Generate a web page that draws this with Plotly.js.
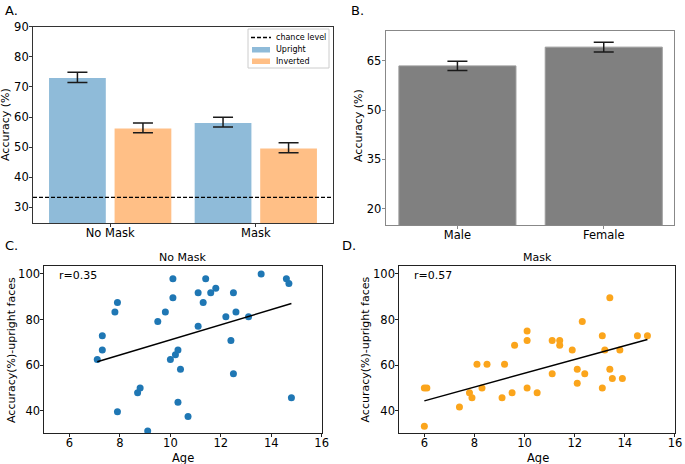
<!DOCTYPE html>
<html><head><meta charset="utf-8">
<script src="https://cdn.plot.ly/plotly-3.0.1.min.js"></script>
<style>html,body{margin:0;padding:0;background:#fff}#plot{width:685px;height:464px}</style>
</head><body><div id="plot"></div>
<script>
// ---- Panel A data ----
const groups = ['No Mask', 'Mask'];
const uprightMean = [73.2, 58.3];
const uprightErr = [1.7, 1.65];
const invertedMean = [56.4, 49.8];
const invertedErr = [1.65, 1.65];
const chanceLevel = 33.3;
const legendLabels = ['chance level', 'Upright', 'Inverted'];

// ---- Panel B data ----
const genders = ['Male', 'Female'];
const genderMean = [63.4, 69.1];
const genderErr = [1.4, 1.5];

// ---- Panel C data (No Mask) ----
const ageNoMask = [7.1, 7.3, 7.3, 7.8, 7.9, 7.9, 8.7, 8.8, 9.1, 9.5, 9.8, 10.0, 10.1, 10.1, 10.2, 10.3, 10.3, 10.4, 10.7, 11.1, 11.1, 11.3, 11.4, 11.6, 11.8, 12.2, 12.4, 12.5, 12.5, 12.6, 13.1, 13.6, 14.6, 14.7, 14.8];
const accNoMask = [62.5, 72.9, 66.7, 83.3, 87.5, 39.6, 47.9, 50.0, 31.25, 79.2, 83.3, 62.5, 97.9, 89.6, 64.6, 66.7, 43.75, 58.3, 37.5, 77.1, 91.7, 87.5, 97.9, 91.7, 93.75, 81.25, 70.8, 91.7, 56.25, 83.3, 81.25, 100, 97.9, 95.8, 45.8];
const fitNoMaskX = [7.1, 14.8];
const fitNoMaskY = [61.5, 87.0];
const rNoMask = 'r=0.35';

// ---- Panel D data (Mask) ----
const ageMask = [6.0, 6.1, 6.0, 7.4, 7.8, 7.9, 8.1, 8.3, 8.5, 9.1, 9.2, 9.5, 9.6, 10.1, 10.1, 10.1, 10.5, 11.1, 11.1, 11.4, 11.4, 11.9, 12.1, 12.1, 12.3, 12.4, 13.1, 13.1, 13.2, 13.4, 13.4, 13.5, 13.8, 13.9, 14.5, 14.9];
const accMask = [50.0, 50.0, 33.3, 41.7, 47.9, 45.8, 60.4, 50.0, 60.4, 45.8, 60.4, 47.9, 68.75, 75.0, 70.8, 50.0, 47.9, 70.8, 56.25, 70.8, 68.75, 66.7, 58.3, 52.1, 79.2, 56.25, 72.9, 50.0, 66.7, 89.6, 58.3, 54.2, 66.7, 54.2, 72.9, 72.9];
const fitMaskX = [6.0, 14.9];
const fitMaskY = [44.4, 71.3];
const rMask = 'r=0.57';

const FONT = 'DejaVu Sans, sans-serif';
const BLUE_BAR = '#8fbbd9';
const ORANGE_BAR = '#ffbf86';
const DASH = '4px,2px';
const W = 685, H = 464;
const px = (v) => v / W;          // pixel -> paper x
const py = (v) => 1 - v / H;      // pixel -> paper y
const errStyle = (arr) => ({type: 'data', array: arr, visible: true, color: '#1a1a1a', thickness: 1.5, width: 10});

const traces = [
  {type: 'scatter', mode: 'lines', x: [0, 1], y: [chanceLevel, chanceLevel], xaxis: 'x5', yaxis: 'y',
   line: {color: '#000', width: 1.4, dash: DASH}, name: legendLabels[0], showlegend: false, hoverinfo: 'skip'},
  {type: 'bar', x: groups, y: uprightMean, error_y: errStyle(uprightErr), name: legendLabels[1], showlegend: false,
   width: 0.4, offset: -0.425, marker: {color: BLUE_BAR, line: {color: '#fff', width: 1.5}}, xaxis: 'x', yaxis: 'y'},
  {type: 'bar', x: groups, y: invertedMean, error_y: errStyle(invertedErr), name: legendLabels[2], showlegend: false,
   width: 0.4, offset: 0.025, marker: {color: ORANGE_BAR, line: {color: '#fff', width: 1.5}}, xaxis: 'x', yaxis: 'y'},
  {type: 'bar', x: genders, y: genderMean, error_y: errStyle(genderErr), showlegend: false,
   width: 0.8, marker: {color: '#808080', line: {color: '#9a9a9a', width: 1}}, xaxis: 'x2', yaxis: 'y2'},
  {type: 'scatter', mode: 'markers', x: ageNoMask, y: accNoMask, xaxis: 'x3', yaxis: 'y3', showlegend: false,
   marker: {color: '#1f77b4', size: 7}},
  {type: 'scatter', mode: 'lines', x: fitNoMaskX, y: fitNoMaskY, xaxis: 'x3', yaxis: 'y3', showlegend: false,
   line: {color: '#000', width: 1.5}},
  {type: 'scatter', mode: 'markers', x: ageMask, y: accMask, xaxis: 'x4', yaxis: 'y4', showlegend: false,
   marker: {color: '#fba51c', size: 7}},
  {type: 'scatter', mode: 'lines', x: fitMaskX, y: fitMaskY, xaxis: 'x4', yaxis: 'y4', showlegend: false,
   line: {color: '#000', width: 1.5}}
];

const axBase = (col, isX) => ({showline: true, mirror: true, linecolor: col, linewidth: 1, ticks: 'outside', ticklen: 3,
  tickcolor: col, showgrid: false, zeroline: false, tickfont: {family: FONT, size: 11.5, color: '#000'}, fixedrange: true,
  ticklabelstandoff: isX ? -4 : -2});

const ann = (text, x, y, opts) => Object.assign({text: text, xref: 'paper', yref: 'paper', x: px(x), y: py(y),
  showarrow: false, font: {family: FONT, size: 11, color: '#000'}}, opts || {});

const layout = {
  width: W, height: H, margin: {l: 0, r: 0, t: 0, b: 0},
  paper_bgcolor: '#fff', plot_bgcolor: '#fff',
  font: {family: FONT, size: 11, color: '#000'},
  barmode: 'group',
  showlegend: false,
  xaxis: Object.assign(axBase('#333', true), {domain: [0.0482, 0.4861], anchor: 'y', range: [-0.53, 1.53], type: 'category'}),
  yaxis: Object.assign(axBase('#333', false), {domain: [0.5194, 0.9425], anchor: 'x', range: [24.8, 90], tickvals: [30, 40, 50, 60, 70, 80, 90]}),
  xaxis5: {domain: [0.0482, 0.4861], anchor: 'y', overlaying: 'x', range: [0, 1], visible: false, fixedrange: true},
  xaxis2: Object.assign(axBase('#888', true), {domain: [0.5631, 0.9839], anchor: 'y2', range: [-0.49, 1.48], type: 'category'}),
  yaxis2: Object.assign(axBase('#888', false), {domain: [0.5151, 0.9332], anchor: 'x2', range: [15.1, 74], tickvals: [20, 35, 50, 65]}),
  xaxis3: Object.assign(axBase('#222', true), {domain: [0.0647, 0.4696], anchor: 'y3', range: [5, 16], tickvals: [6, 8, 10, 12, 14, 16]}),
  yaxis3: Object.assign(axBase('#222', false), {domain: [0.0662, 0.4274], anchor: 'x3', range: [30.2, 103.6], tickvals: [40, 60, 80, 100]}),
  xaxis4: Object.assign(axBase('#222', true), {domain: [0.5829, 0.9854], anchor: 'y4', range: [5, 16], tickvals: [6, 8, 10, 12, 14, 16]}),
  yaxis4: Object.assign(axBase('#222', false), {domain: [0.0662, 0.4274], anchor: 'x4', range: [30.2, 103.6], tickvals: [40, 60, 80, 100]}),
  shapes: [
    // manual legend for panel A
    {type: 'rect', xref: 'paper', yref: 'paper', x0: px(248), x1: px(329), y0: py(29), y1: py(68),
     line: {color: '#cccccc', width: 1}, fillcolor: 'rgba(255,255,255,0.9)'},
    {type: 'line', xref: 'paper', yref: 'paper', x0: px(251), x1: px(271), y0: py(37.5), y1: py(37.5),
     line: {color: '#000', width: 1.4, dash: DASH}},
    {type: 'rect', xref: 'paper', yref: 'paper', x0: px(252), x1: px(270), y0: py(47), y1: py(52.5),
     line: {width: 0}, fillcolor: BLUE_BAR},
    {type: 'rect', xref: 'paper', yref: 'paper', x0: px(252), x1: px(270), y0: py(58.5), y1: py(64),
     line: {width: 0}, fillcolor: ORANGE_BAR}
  ],
  annotations: [
    ann('A.', 3, 1, {xanchor: 'left', yanchor: 'top', font: {family: FONT, size: 13, color: '#000'}}),
    ann('B.', 349, 1, {xanchor: 'left', yanchor: 'top', font: {family: FONT, size: 13, color: '#000'}}),
    ann('C.', 3, 236, {xanchor: 'left', yanchor: 'top', font: {family: FONT, size: 13, color: '#000'}}),
    ann('D.', 340, 236, {xanchor: 'left', yanchor: 'top', font: {family: FONT, size: 13, color: '#000'}}),
    // legend texts
    ann(legendLabels[0], 274, 37.5, {xanchor: 'left', yanchor: 'middle', font: {family: FONT, size: 8, color: '#000'}}),
    ann(legendLabels[1], 274, 49.5, {xanchor: 'left', yanchor: 'middle', font: {family: FONT, size: 8, color: '#000'}}),
    ann(legendLabels[2], 274, 61.2, {xanchor: 'left', yanchor: 'middle', font: {family: FONT, size: 8, color: '#000'}}),
    // axis titles
    ann('Accuracy (%)', 6, 125, {textangle: -90, xanchor: 'center', yanchor: 'middle'}),
    ann('Accuracy (%)', 358, 126, {textangle: -90, xanchor: 'center', yanchor: 'middle'}),
    ann('Accuracy(%)-upright faces', 11, 350, {textangle: -90, xanchor: 'center', yanchor: 'middle'}),
    ann('Accuracy(%)-upright faces', 364.5, 350, {textangle: -90, xanchor: 'center', yanchor: 'middle'}),
    ann('Age', 183, 458, {xanchor: 'center', yanchor: 'middle', font: {family: FONT, size: 11.5, color: '#000'}}),
    ann('Age', 538, 458, {xanchor: 'center', yanchor: 'middle', font: {family: FONT, size: 11.5, color: '#000'}}),
    // panel titles
    {text: 'No Mask', xref: 'x3 domain', yref: 'y3 domain', x: 0.5, y: 1, yanchor: 'bottom', yshift: 0, showarrow: false, font: {family: FONT, size: 11}},
    {text: 'Mask', xref: 'x4 domain', yref: 'y4 domain', x: 0.5, y: 1, yanchor: 'bottom', yshift: 0, showarrow: false, font: {family: FONT, size: 11}},
    // correlation labels
    {text: rNoMask, xref: 'x3', yref: 'y3', x: 5.5, y: 99.2, xanchor: 'left', yanchor: 'middle', showarrow: false, font: {family: FONT, size: 11}},
    {text: rMask, xref: 'x4', yref: 'y4', x: 5.5, y: 99.2, xanchor: 'left', yanchor: 'middle', showarrow: false, font: {family: FONT, size: 11}}
  ]
};

Plotly.newPlot('plot', traces, layout, {staticPlot: true, displayModeBar: false});
</script></body></html>
